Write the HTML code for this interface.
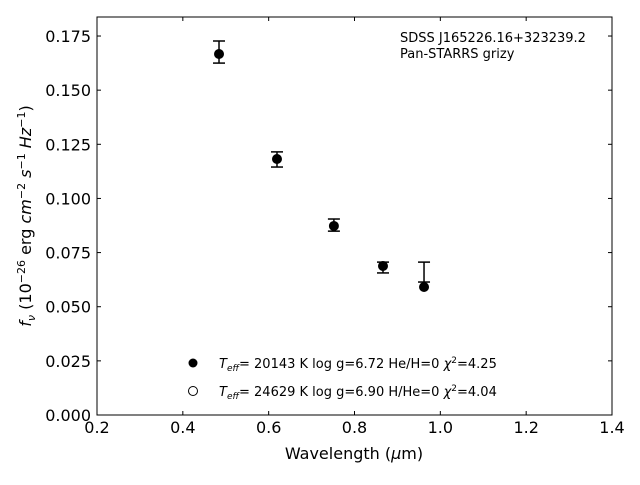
<!DOCTYPE html>
<html><head><meta charset="utf-8"><style>
body{margin:0;background:#fff;}
svg text{font-family:"DejaVu Sans","Liberation Sans",sans-serif;fill:#000;}
</style></head><body>
<svg id="chart" width="640" height="480" xmlns="http://www.w3.org/2000/svg">
<rect x="97" y="17" width="515" height="398" fill="#fff" stroke="#000" stroke-width="1"/>
<g id="xt"></g>
<g id="yt"></g>
<g id="marks"></g>
<text x="354" y="459" font-size="16" text-anchor="middle">Wavelength (<tspan font-style="italic">μ</tspan>m)</text>
<text transform="translate(31,216) rotate(-90)" font-size="16" text-anchor="middle"><tspan font-style="italic">f</tspan><tspan font-style="italic" font-size="11" dy="4">ν</tspan><tspan dy="-4"> (10</tspan><tspan font-size="11" dy="-6">−26</tspan><tspan dy="6"> erg </tspan><tspan font-style="italic">cm</tspan><tspan font-size="11" dy="-6">−2</tspan><tspan dy="6" font-style="italic"> s</tspan><tspan font-size="11" dy="-6">−1</tspan><tspan dy="6" font-style="italic"> Hz</tspan><tspan font-size="11" dy="-6">−1</tspan><tspan dy="6">)</tspan></text>
<text x="400" y="42" font-size="13">SDSS J165226.16+323239.2</text>
<text x="400" y="58" font-size="13">Pan-STARRS grizy</text>
<g>
<circle cx="193" cy="363" r="4.5" fill="#000"/>
<text x="219" y="368" font-size="13"><tspan font-style="italic">T</tspan><tspan font-style="italic" font-size="9" dy="3">eff</tspan><tspan dy="-3">= 20143 K  log g=6.72  He/H=0  </tspan><tspan font-style="italic">χ</tspan><tspan font-size="9" dy="-5">2</tspan><tspan dy="5">=4.25</tspan></text>
<circle cx="193" cy="391" r="4.5" fill="#fff" stroke="#000"/>
<text x="219" y="396" font-size="13"><tspan font-style="italic">T</tspan><tspan font-style="italic" font-size="9" dy="3">eff</tspan><tspan dy="-3">= 24629 K  log g=6.90  H/He=0  </tspan><tspan font-style="italic">χ</tspan><tspan font-size="9" dy="-5">2</tspan><tspan dy="5">=4.04</tspan></text>
</g>
</svg>
<script>
const wavelengths=[0.4843,0.6194,0.752,0.8664,0.962];
const obsFlux=[0.1676,0.1180,0.0877,0.0681,0.0660];
const obsErr=[0.0051,0.0035,0.0028,0.0025,0.0046];
const model1Flux=[0.1667,0.1182,0.0873,0.0688,0.0591];
const model2Flux=[0.1667,0.1182,0.0873,0.0688,0.0591];
const xTicks=[0.2,0.4,0.6,0.8,1.0,1.2,1.4];
const yTicks=[0,0.025,0.05,0.075,0.1,0.125,0.15,0.175];
const NS="http://www.w3.org/2000/svg";
const X=v=>97+(v-0.2)/1.2*515;
const Y=v=>415-v/0.025*54.14;
function mk(tag,attrs,parent){const e=document.createElementNS(NS,tag);for(const k in attrs)e.setAttribute(k,attrs[k]);parent.appendChild(e);return e;}
const xt=document.getElementById('xt'),yt=document.getElementById('yt'),m=document.getElementById('marks');
xTicks.forEach(v=>{const x=X(v);
 const l=mk('line',{x1:x,x2:x,y1:415,y2:411,stroke:'#000'},xt);
 
 
 const l2=mk('line',{x1:x,x2:x,y1:17,y2:21,stroke:'#000'},xt);
 
 
 const t=mk('text',{x:x,y:433,'font-size':16,'text-anchor':'middle'},xt);t.textContent=v.toFixed(1);
 
 
});
yTicks.forEach(v=>{const y=Y(v);
 const l=mk('line',{x1:97,x2:101,y1:y,y2:y,stroke:'#000'},yt);
 
 
 const l2=mk('line',{x1:612,x2:608,y1:y,y2:y,stroke:'#000'},yt);
 
 
 const t=mk('text',{x:91,y:y+6,'font-size':16,'text-anchor':'end'},yt);t.textContent=v.toFixed(3);
 
 
});
wavelengths.forEach((w,i)=>{const x=X(w);
 const c2=mk('circle',{cx:x,cy:Y(model2Flux[i]),r:4.5,fill:'#fff',stroke:'#000'},m);
 
 
 const t=Y(obsFlux[i]+obsErr[i]),b=Y(obsFlux[i]-obsErr[i]);
 const g=mk('g',{stroke:'#000','stroke-width':1.5},m);
 
 
 mk('line',{x1:x,x2:x,y1:t,y2:b},g);
 mk('line',{x1:x-6,x2:x+6,y1:t,y2:t},g);
 mk('line',{x1:x-6,x2:x+6,y1:b,y2:b},g);
 const c=mk('circle',{cx:x,cy:Y(model1Flux[i]),r:4.5,fill:'#000'},m);
 
 
});
</script>
</body></html>
